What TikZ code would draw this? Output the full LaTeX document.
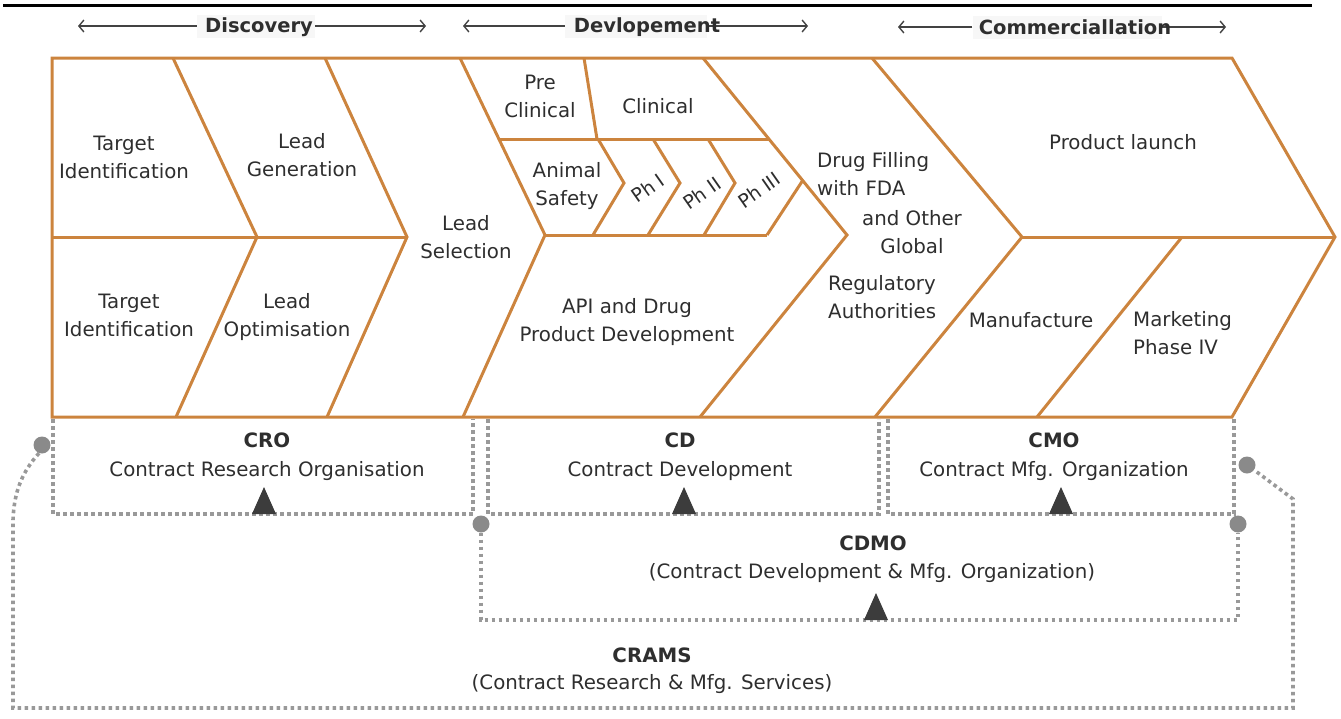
\documentclass[tikz,border=0pt]{standalone}
\usepackage{fontspec}
\setmainfont{DejaVu Sans}
\usetikzlibrary{arrows.meta}
\definecolor{frame}{RGB}{204,132,62}
\definecolor{ink}{HTML}{2E2E2E}
\definecolor{dotgray}{HTML}{999999}
\definecolor{knobgray}{HTML}{8A8A8A}
\definecolor{tri}{HTML}{3C3C3C}
\definecolor{tagbg}{HTML}{F7F7F7}

\begin{document}
\begin{tikzpicture}[x=1pt,y=-1pt,
  frameline/.style={draw=frame,line width=3pt,line join=miter},
  stage/.style={text=ink,align=center,inner sep=0pt,font=\fontsize{19.8}{28}\selectfont},
  stageL/.style={stage,align=left},
  phase/.style={text=ink,inner sep=0pt,font=\fontsize{19}{20}\selectfont,rotate=35},
  head/.style={text=ink,inner sep=0pt,anchor=base,font=\fontsize{19.5}{22}\selectfont\bfseries},
  headbox/.style={fill=tagbg,minimum height=23pt,inner sep=0pt},
  span/.style={draw=ink!90,line width=1.4pt,-{Straight Barb[length=5pt,width=12pt]}},
  tag/.style={text=ink,inner sep=0pt,anchor=base,font=\fontsize{19.8}{24}\selectfont\bfseries},
  desc/.style={text=ink,inner sep=0pt,anchor=base,font=\fontsize{19.8}{24}\selectfont},
  dots/.style={draw=dotgray,line width=3.6pt,dash pattern=on 3.6pt off 3.4pt},
  knob/.style={circle,fill=knobgray,inner sep=0pt,minimum size=17pt},
  marker/.style={fill=tri},
]
\useasboundingbox (0,0) rectangle (1341,718);

% top rule
\coordinate (ruleL) at (3,5);
\coordinate (ruleR) at (1312,5);
\draw[line width=3pt] (ruleL) -- (ruleR);

% ---------- phase headings with span arrows ----------
\coordinate (discL) at (78,26);   \coordinate (discR) at (426,26);
\coordinate (devL)  at (463,26);  \coordinate (devR)  at (808,26);
\coordinate (comL)  at (898,27);  \coordinate (comR)  at (1226,27);
\node[headbox,minimum width=118pt] (discbox) at (256,26) {};
\node[headbox,minimum width=142pt] (devbox)  at (636,26) {};
\node[headbox,minimum width=189pt] (combox)  at (1067,27) {};
\draw[span] (discbox.west) -- (discL);
\draw[span] (discbox.east) -- (discR);
\draw[span] (devbox.west) -- (devL);
\draw[span] (devbox.east) -- (devR);
\draw[span] (combox.west) -- (comL);
\draw[span] (combox.east) -- (comR);
\node[head] (disc) at (259,32) {Discovery};
\node[head] (dev)  at (647,32) {Devlopement};
\node[head] (com)  at (1075,34) {Commerciallation};

% ---------- value-chain frame ----------
\coordinate (tl) at (52,58);   \coordinate (tr) at (1232,58);
\coordinate (tip) at (1335,237);
\coordinate (br) at (1232,417); \coordinate (bl) at (52,417);
\draw[frameline] (tl) -- (tr) -- (tip) -- (br) -- (bl) -- cycle;

% discovery chevrons
\coordinate (ml) at (52,237);
\coordinate (c1a) at (173,58);  \coordinate (c1m) at (257,237); \coordinate (c1b) at (176,417);
\coordinate (c2a) at (325,58);  \coordinate (c2m) at (407,237); \coordinate (c2b) at (327,417);
\draw[frameline] (ml) -- (c2m);
\draw[frameline] (c1a) -- (c1m) -- (c1b);
\draw[frameline] (c2a) -- (c2m) -- (c2b);

% development block
\coordinate (c3a) at (460,58);  \coordinate (c3m) at (545,235); \coordinate (c3b) at (463,417);
\draw[frameline] (c3a) -- (c3m) -- (c3b);
\coordinate (splitL) at (499,139); \coordinate (splitR) at (770,139);
\draw[frameline] (splitL) -- (splitR);
\coordinate (preA) at (584,58); \coordinate (preB) at (597,139);
\draw[frameline] (preA) -- (preB);
\coordinate (subR) at (767,235);
\draw[frameline] (c3m) -- (subR);
\coordinate (anA) at (598,139); \coordinate (anM) at (624,183); \coordinate (anB) at (593,235);
\coordinate (p1A) at (653,139); \coordinate (p1M) at (680,183); \coordinate (p1B) at (648,235);
\coordinate (p2A) at (708,139); \coordinate (p2M) at (735,183); \coordinate (p2B) at (704,235);
\coordinate (p3M) at (803,180);
\draw[frameline] (anA) -- (anM) -- (anB);
\draw[frameline] (p1A) -- (p1M) -- (p1B);
\draw[frameline] (p2A) -- (p2M) -- (p2B);
\draw[frameline] (p3M) -- (subR);
\coordinate (c4a) at (703,58);  \coordinate (c4m) at (847,235); \coordinate (c4b) at (700,417);
\draw[frameline] (c4a) -- (c4m) -- (c4b);

% commercialisation block
\coordinate (c5a) at (872,58);  \coordinate (c5m) at (1022,237); \coordinate (c5b) at (875,417);
\draw[frameline] (c5a) -- (c5m) -- (c5b);
\draw[frameline] (c5m) -- (tip);
\coordinate (mkA) at (1182,237); \coordinate (mkB) at (1037,417);
\draw[frameline] (mkA) -- (mkB);

% ---------- stage labels ----------
\node[stage] (tid1) at (124,157.5) {Target\\Identification};
\node[stage] (lgen) at (302,155) {Lead\\Generation};
\node[stage] (tid2) at (129,315) {Target\\Identification};
\node[stage] (lopt) at (287,317) {Lead\\Optimisation};
\node[stage] (lsel) at (466,237) {Lead\\Selection};
\node[stage] (precl) at (540,96) {Pre\\Clinical};
\node[stage] (clin) at (658,106) {Clinical};
\node[stage] (anim) at (567,186) {Animal\\Safety};
\node[phase] (ph1) at (648,188) {Ph I};
\node[phase] (ph2) at (702,193) {Ph II};
\node[phase] (ph3) at (759,190) {Ph III};
\node[stage] (api) at (627,322) {API and Drug\\Product Development};
\node[stageL,anchor=west] (drugA) at (817,174) {Drug Filling\\with FDA};
\node[stage] (drugB) at (912,232) {and Other\\Global};
\node[stageL,anchor=west] (drugC) at (828,297) {Regulatory\\Authorities};
\node[stage] (launch) at (1123,142) {Product launch};
\node[stage] (manu) at (1031,320) {Manufacture};
\node[stageL,anchor=west] (mkt) at (1133,333) {Marketing\\Phase IV};

% ---------- outsourcing groups ----------
% CRO
\coordinate (croA) at (53,419);  \coordinate (croB) at (53,514);
\coordinate (croC) at (473,514); \coordinate (croD) at (473,419);
\draw[dots] (croA) -- (croB) -- (croC) -- (croD);
% CD
\coordinate (cdA) at (488,419);  \coordinate (cdB) at (488,514);
\coordinate (cdC) at (879,514);  \coordinate (cdD) at (879,419);
\draw[dots] (cdA) -- (cdB) -- (cdC) -- (cdD);
% CMO
\coordinate (cmoA) at (888,419);  \coordinate (cmoB) at (888,514);
\coordinate (cmoC) at (1234,514); \coordinate (cmoD) at (1234,419);
\draw[dots] (cmoA) -- (cmoB) -- (cmoC) -- (cmoD);
% CDMO
\node[knob] (cdmoL) at (481,524) {};
\node[knob] (cdmoR) at (1238,524) {};
\coordinate (cdmoB) at (481,620); \coordinate (cdmoC) at (1238,620);
\draw[dots] (cdmoL.south) -- (cdmoB) -- (cdmoC) -- (cdmoR.south);
% CRAMS
\node[knob] (cramsL) at (42,445) {};
\node[knob] (cramsR) at (1247,465) {};
\coordinate (crA) at (13,520); \coordinate (crB) at (13,708);
\coordinate (crC) at (1293,708); \coordinate (crD) at (1293,499);
\draw[dots] (cramsL.250) .. controls (22,472) and (14,492) .. (crA) -- (crB) -- (crC) -- (crD) -- (cramsR.-35);

% markers
\fill[marker] (264,487) -- (276,514) -- (252,514) -- cycle;
\fill[marker] (684,487) -- (696,514) -- (672,514) -- cycle;
\fill[marker] (1061,487) -- (1073,514) -- (1049,514) -- cycle;
\fill[marker] (876,593) -- (888,620) -- (864,620) -- cycle;

% group labels
\node[tag]  (cro)   at (267,447) {CRO};
\node[desc] (crod)  at (267,476) {Contract Research Organisation};
\node[tag]  (cd)    at (680,447) {CD};
\node[desc] (cdd)   at (680,476) {Contract Development};
\node[tag]  (cmo)   at (1054,447) {CMO};
\node[desc] (cmod)  at (1054,476) {Contract Mfg. Organization};
\node[tag]  (cdmo)  at (873,550) {CDMO};
\node[desc] (cdmod) at (872,578) {(Contract Development \& Mfg. Organization)};
\node[tag]  (crams) at (652,662) {CRAMS};
\node[desc] (cramsd) at (652,689) {(Contract Research \& Mfg. Services)};
\end{tikzpicture}
\end{document}
